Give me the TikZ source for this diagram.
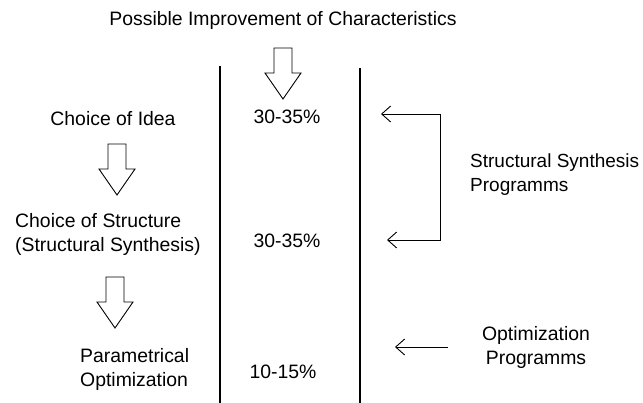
\documentclass[tikz,border=0pt]{standalone}
\usepackage{fontspec}
\setmainfont{Liberation Sans}
\usetikzlibrary{arrows.meta}
\usetikzlibrary{scopes}

\tikzset{
  blockdown/.pic={
    \draw[line width=0.9pt,line join=miter] (-9,0) -- (-9,25) -- (-18,25) -- (0,51) -- (18,25) -- (9,25) -- (9,0) -- cycle;
  }
}

\begin{document}
\begin{tikzpicture}[x=1pt,y=-1pt,font=\fontsize{19.4}{24}\selectfont]
\useasboundingbox (0,0) rectangle (643,403);
\begin{scope}[every node/.style={inner sep=0pt}]
    \node (title) at (283,20) {Possible Improvement of Characteristics};
    \node (idea) at (113,119) {Choice of Idea};
    \node[align=left,anchor=west] (struct) at (15,234) {Choice of Structure\\(Structural Synthesis)};
    \node[align=left,anchor=west] (param) at (80,369) {Parametrical\\Optimization};
    \node (p1) at (287,117) {30-35\%};
    \node (p2) at (287,241) {30-35\%};
    \node (p3) at (283,372) {10-15\%};
    \node[align=left,anchor=west,font=\fontsize{19}{24}\selectfont] (ssp) at (470,175) {Structural Synthesis\\Programms};
    \node[align=center] (op) at (536,347) {Optimization\\Programms};
\end{scope}

% dividing lines
\coordinate (l1) at (220,66);
\coordinate (l2) at (360,68);
\draw[line width=1.3pt] (l1) -- (l1 |- 0,403);
\draw[line width=1.3pt] (l2) -- (l2 |- 0,403);

% block arrows
\pic at (283,48) {blockdown};
\pic at (117,144) {blockdown};
\pic at (115,277) {blockdown};

% program arrows
\coordinate (b1) at (381,114);
\coordinate (bt) at (440,114);
\coordinate (bb) at (440,240);
\coordinate (b2) at (387,240);
\coordinate (o1) at (395,347);
\coordinate (o2) at (448,347);
\begin{scope}[>={Straight Barb[length=9pt,width=16pt]}, line width=0.9pt]
    \draw[<->] (b1) -- (bt) -- (bb) -- (b2);
    \draw[->] (o2) -- (o1);
\end{scope}
\end{tikzpicture}
\end{document}
